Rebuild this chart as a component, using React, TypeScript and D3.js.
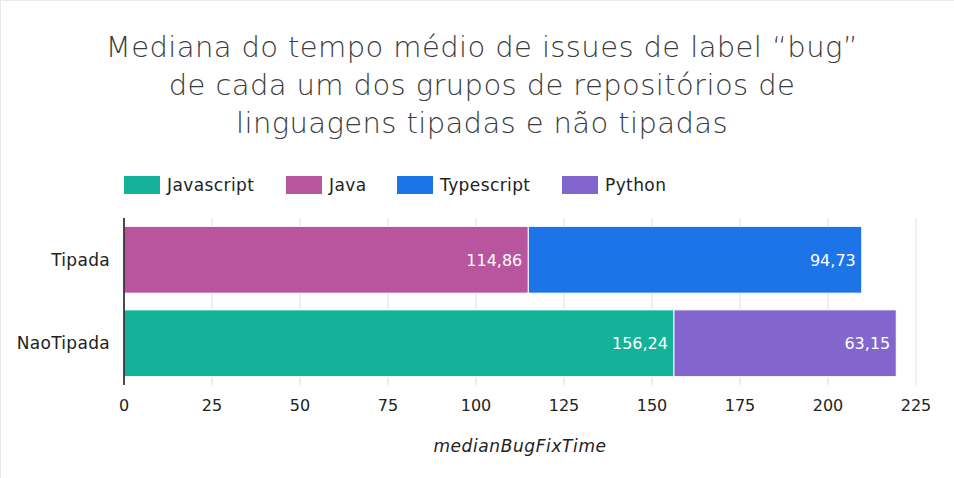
import { useEffect, useRef } from 'react';
import * as d3 from 'd3';

// ─── Data ───────────────────────────────────────────────────

const CATEGORIES = ['Tipada', 'NaoTipada'];
const SERIES_NAMES = ['Javascript', 'Java', 'Typescript', 'Python'];
const SERIES_COLORS = ['#15b29a', '#b8559e', '#1c74e8', '#8366cd'];

// one segment per language, stacked in row order
const JAVASCRIPT = [0, 156.24];
const JAVA = [114.86, 0];
const TYPESCRIPT = [94.73, 0];
const PYTHON = [0, 63.15];

const X_TICKS = [0, 25, 50, 75, 100, 125, 150, 175, 200, 225];

const TITLE_LINES = [
  'Mediana do tempo médio de issues de label “bug”',
  'de cada um dos grupos de repositórios de',
  'linguagens tipadas e não tipadas',
];
const X_TITLE = 'medianBugFixTime';

// ─── Layout ─────────────────────────────────────────────────

const W = 954;
const H = 478;
const PLOT = { left: 124, right: 916, top: 218, bottom: 385 };
const FONT = '"DejaVu Sans", "Noto Sans", sans-serif';

export default function App() {
  const svgRef = useRef<SVGSVGElement>(null);

  useEffect(() => {
    document.body.style.margin = '0';
    if (!svgRef.current) return;
    const svg = d3.select(svgRef.current);
    svg.selectAll('*').remove();

    svg.append('rect').attr('width', W).attr('height', H).attr('fill', '#fff');
    // faint frame edge at top/left
    svg.append('line').attr('x1', 0).attr('x2', W).attr('y1', 0.5).attr('y2', 0.5)
      .attr('stroke', '#e6e9ed');
    svg.append('line').attr('x1', 0.5).attr('x2', 0.5).attr('y1', 0).attr('y2', H)
      .attr('stroke', '#e6e9ed');

    // Title
    svg.append('g').selectAll('text').data(TITLE_LINES).join('text')
      .attr('x', 482)
      .attr('y', (_, i) => 57 + i * 38)
      .attr('text-anchor', 'middle')
      .attr('font-family', FONT)
      .attr('font-size', 29)
      .attr('font-weight', 200)
      .attr('letter-spacing', 0.4)
      .attr('fill', '#3c3c3c')
      .text((d) => d);

    // Legend
    const legendX = [124, 286, 397, 562];
    const legend = svg.append('g').selectAll('g').data(SERIES_NAMES).join('g')
      .attr('transform', (_, i) => `translate(${legendX[i]},176)`);
    legend.append('rect').attr('width', 36).attr('height', 18)
      .attr('fill', (_, i) => SERIES_COLORS[i]);
    legend.append('text').attr('x', 43).attr('y', 15)
      .attr('font-family', FONT).attr('font-size', 17).attr('letter-spacing', 0.4)
      .attr('fill', '#222')
      .text((d) => d);

    const x = d3.scaleLinear().domain([0, 225]).range([PLOT.left, PLOT.right]);
    const y = d3.scaleBand().domain(CATEGORIES).range([PLOT.top, PLOT.bottom])
      .paddingInner(0.2).paddingOuter(0.1);

    // Grid
    svg.append('g').selectAll('line').data(X_TICKS.slice(1)).join('line')
      .attr('x1', (d) => x(d)).attr('x2', (d) => x(d))
      .attr('y1', PLOT.top).attr('y2', PLOT.bottom)
      .attr('stroke', '#dedede').attr('stroke-width', 1);

    // Stacked bars
    const rows = CATEGORIES.map((c, i) => ({
      cat: c,
      Javascript: JAVASCRIPT[i],
      Java: JAVA[i],
      Typescript: TYPESCRIPT[i],
      Python: PYTHON[i],
    }));
    const stacked = d3.stack<any>().keys(SERIES_NAMES)(rows);

    stacked.forEach((layer, si) => {
      const segs = layer
        .map((d) => ({ cat: d.data.cat, x0: d[0], x1: d[1], v: d[1] - d[0] }))
        .filter((d) => d.v > 0);
      const g = svg.append('g');
      g.selectAll('rect').data(segs).join('rect')
        .attr('x', (d) => x(d.x0))
        .attr('y', (d) => y(d.cat)!)
        .attr('width', (d) => x(d.x1) - x(d.x0))
        .attr('height', y.bandwidth())
        .attr('fill', SERIES_COLORS[si])
        .attr('stroke', '#fff')
        .attr('stroke-width', 1);
      g.selectAll('text').data(segs).join('text')
        .attr('x', (d) => x(d.x1) - 6)
        .attr('y', (d) => y(d.cat)! + y.bandwidth() / 2 + 6)
        .attr('text-anchor', 'end')
        .attr('font-family', FONT)
        .attr('font-size', 16)
        .attr('fill', '#fff')
        .text((d) => d.v.toFixed(2).replace('.', ','));
    });

    // Y axis line + labels
    svg.append('line')
      .attr('x1', PLOT.left).attr('x2', PLOT.left)
      .attr('y1', PLOT.top).attr('y2', PLOT.bottom)
      .attr('stroke', '#111').attr('stroke-width', 1.5);
    svg.append('g').selectAll('text').data(CATEGORIES).join('text')
      .attr('x', 110)
      .attr('y', (d) => y(d)! + y.bandwidth() / 2 + 6)
      .attr('text-anchor', 'end')
      .attr('font-family', FONT).attr('font-size', 17).attr('letter-spacing', 0.3)
      .attr('fill', '#222')
      .text((d) => d);

    // X tick labels
    svg.append('g').selectAll('text').data(X_TICKS).join('text')
      .attr('x', (d) => x(d))
      .attr('y', 411)
      .attr('text-anchor', 'middle')
      .attr('font-family', FONT).attr('font-size', 16).attr('fill', '#222')
      .text((d) => d);

    svg.append('text')
      .attr('x', 520).attr('y', 452)
      .attr('text-anchor', 'middle')
      .attr('font-family', FONT).attr('font-size', 17).attr('font-style', 'italic')
      .attr('letter-spacing', 0.6)
      .attr('fill', '#222')
      .text(X_TITLE);
  }, []);

  return <svg ref={svgRef} width={W} height={H} style={{ display: 'block' }} />;
}
